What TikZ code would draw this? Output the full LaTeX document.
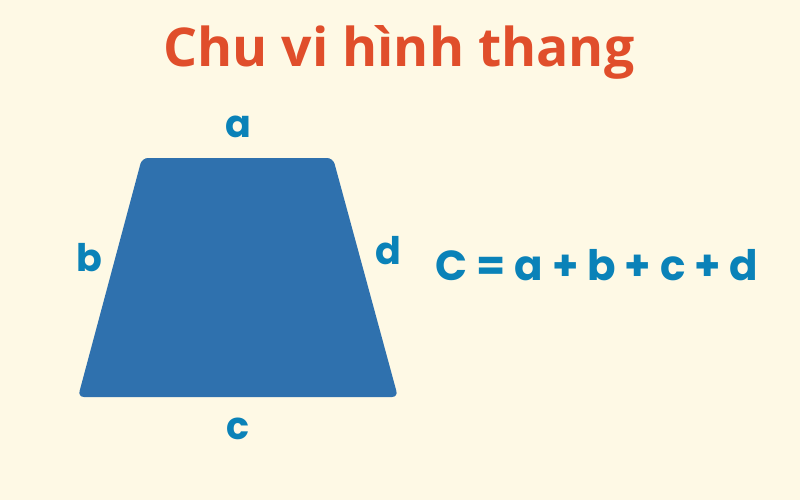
\documentclass[tikz,border=0pt]{standalone}
\usepackage{fontspec}
\setmainfont{Open Sans}
\newfontfamily\popfont{Poppins}
\definecolor{bgcream}{HTML}{FEF9E5}
\definecolor{titlered}{HTML}{E04E2B}
\definecolor{shapeblue}{HTML}{2F71AE}
\definecolor{textblue}{HTML}{0A82B8}
\tikzset{
  side/.style={text=textblue, font=\popfont\bfseries\fontsize{38}{40}\selectfont, inner sep=0pt},
  formula/.style={text=textblue, font=\popfont\bfseries\fontsize{42}{46}\selectfont, inner sep=0pt}
}
\begin{document}
\begin{tikzpicture}[x=1pt, y=-1pt]
  \fill[bgcream] (0,0) rectangle (800,500);
  \useasboundingbox (0,0) rectangle (800,500);
  \node[text=titlered, font=\bfseries\fontsize{53.5}{58}\selectfont, inner sep=0pt] (title) at (399,52) {Chu vi hình thang};
  \fill[shapeblue, rounded corners=6pt] (142,158) -- (333,158) -- (398,397) -- (78,397) -- cycle;
  \node[side] (a) at (238,127) {a};
  \node[side] (b) at (89,258) {b};
  \node[side] (d) at (388,251) {d};
  \node[side] (c) at (238,429) {c};
  \node[formula] (perim) at (597,265) {C = a + b + c + d};
\end{tikzpicture}
\end{document}
